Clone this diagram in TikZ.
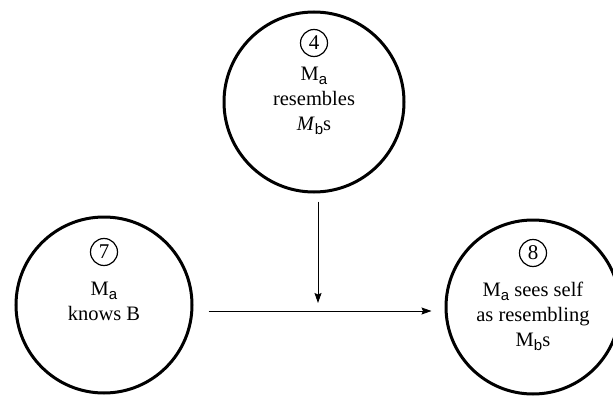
\documentclass[tikz,border=0pt]{standalone}
\usepackage{fontspec}
\setmainfont{Liberation Serif}
\setsansfont{Liberation Sans}
\usetikzlibrary{positioning}
\usetikzlibrary{arrows.meta}
\newcommand{\sub}[1]{\raisebox{-0.45ex}{\sffamily\fontsize{15}{15}\selectfont #1}}
\tikzset{
    stage/.style = {circle,draw,line width=3pt,minimum size=176pt,inner sep=0pt},
    tag/.style = {circle,draw,line width=1.2pt,minimum size=27pt,inner sep=0pt,font=\fontsize{21}{21}\selectfont},
    caption/.style = {align=center,font=\fontsize{20.5}{25}\selectfont},
    link/.style = {-{Stealth[length=10pt,width=7pt,inset=1.5pt]},line width=0.9pt}}
\begin{document}
\begin{tikzpicture}[x=1pt,y=-1pt]
        \useasboundingbox (0,0) rectangle (613,396);
        \node[stage,minimum size=180pt] (S4) at (314,102) {};
        \node[stage] (S7) at (104,305) {};
        \node[stage,minimum size=174pt] (S8) at (533,307) {};
        \node[tag] (T4) at (314,43) {4};
        \node[tag] (T7) at (104,252) {7};
        \node[tag] (T8) at (533,253) {8};
        \node[caption] (C4) at (314,101) {M\sub{a}\\resembles\\\textit{M}\sub{b}s};
        \node[caption] (C7) at (104,301) {M\sub{a}\\knows B};
        \node[caption] (C8) at (533,316) {M\sub{a} sees self\\as resembling\\M\sub{b}s};
        \coordinate (J) at (318,303);
        \draw[link] ([shift={(15,6)}]S7.east) -- ([shift={(-13,4)}]S8.west);
        \draw[link] (S4.south -| J) ++(0,8) -- (J);
\end{tikzpicture}
\end{document}
